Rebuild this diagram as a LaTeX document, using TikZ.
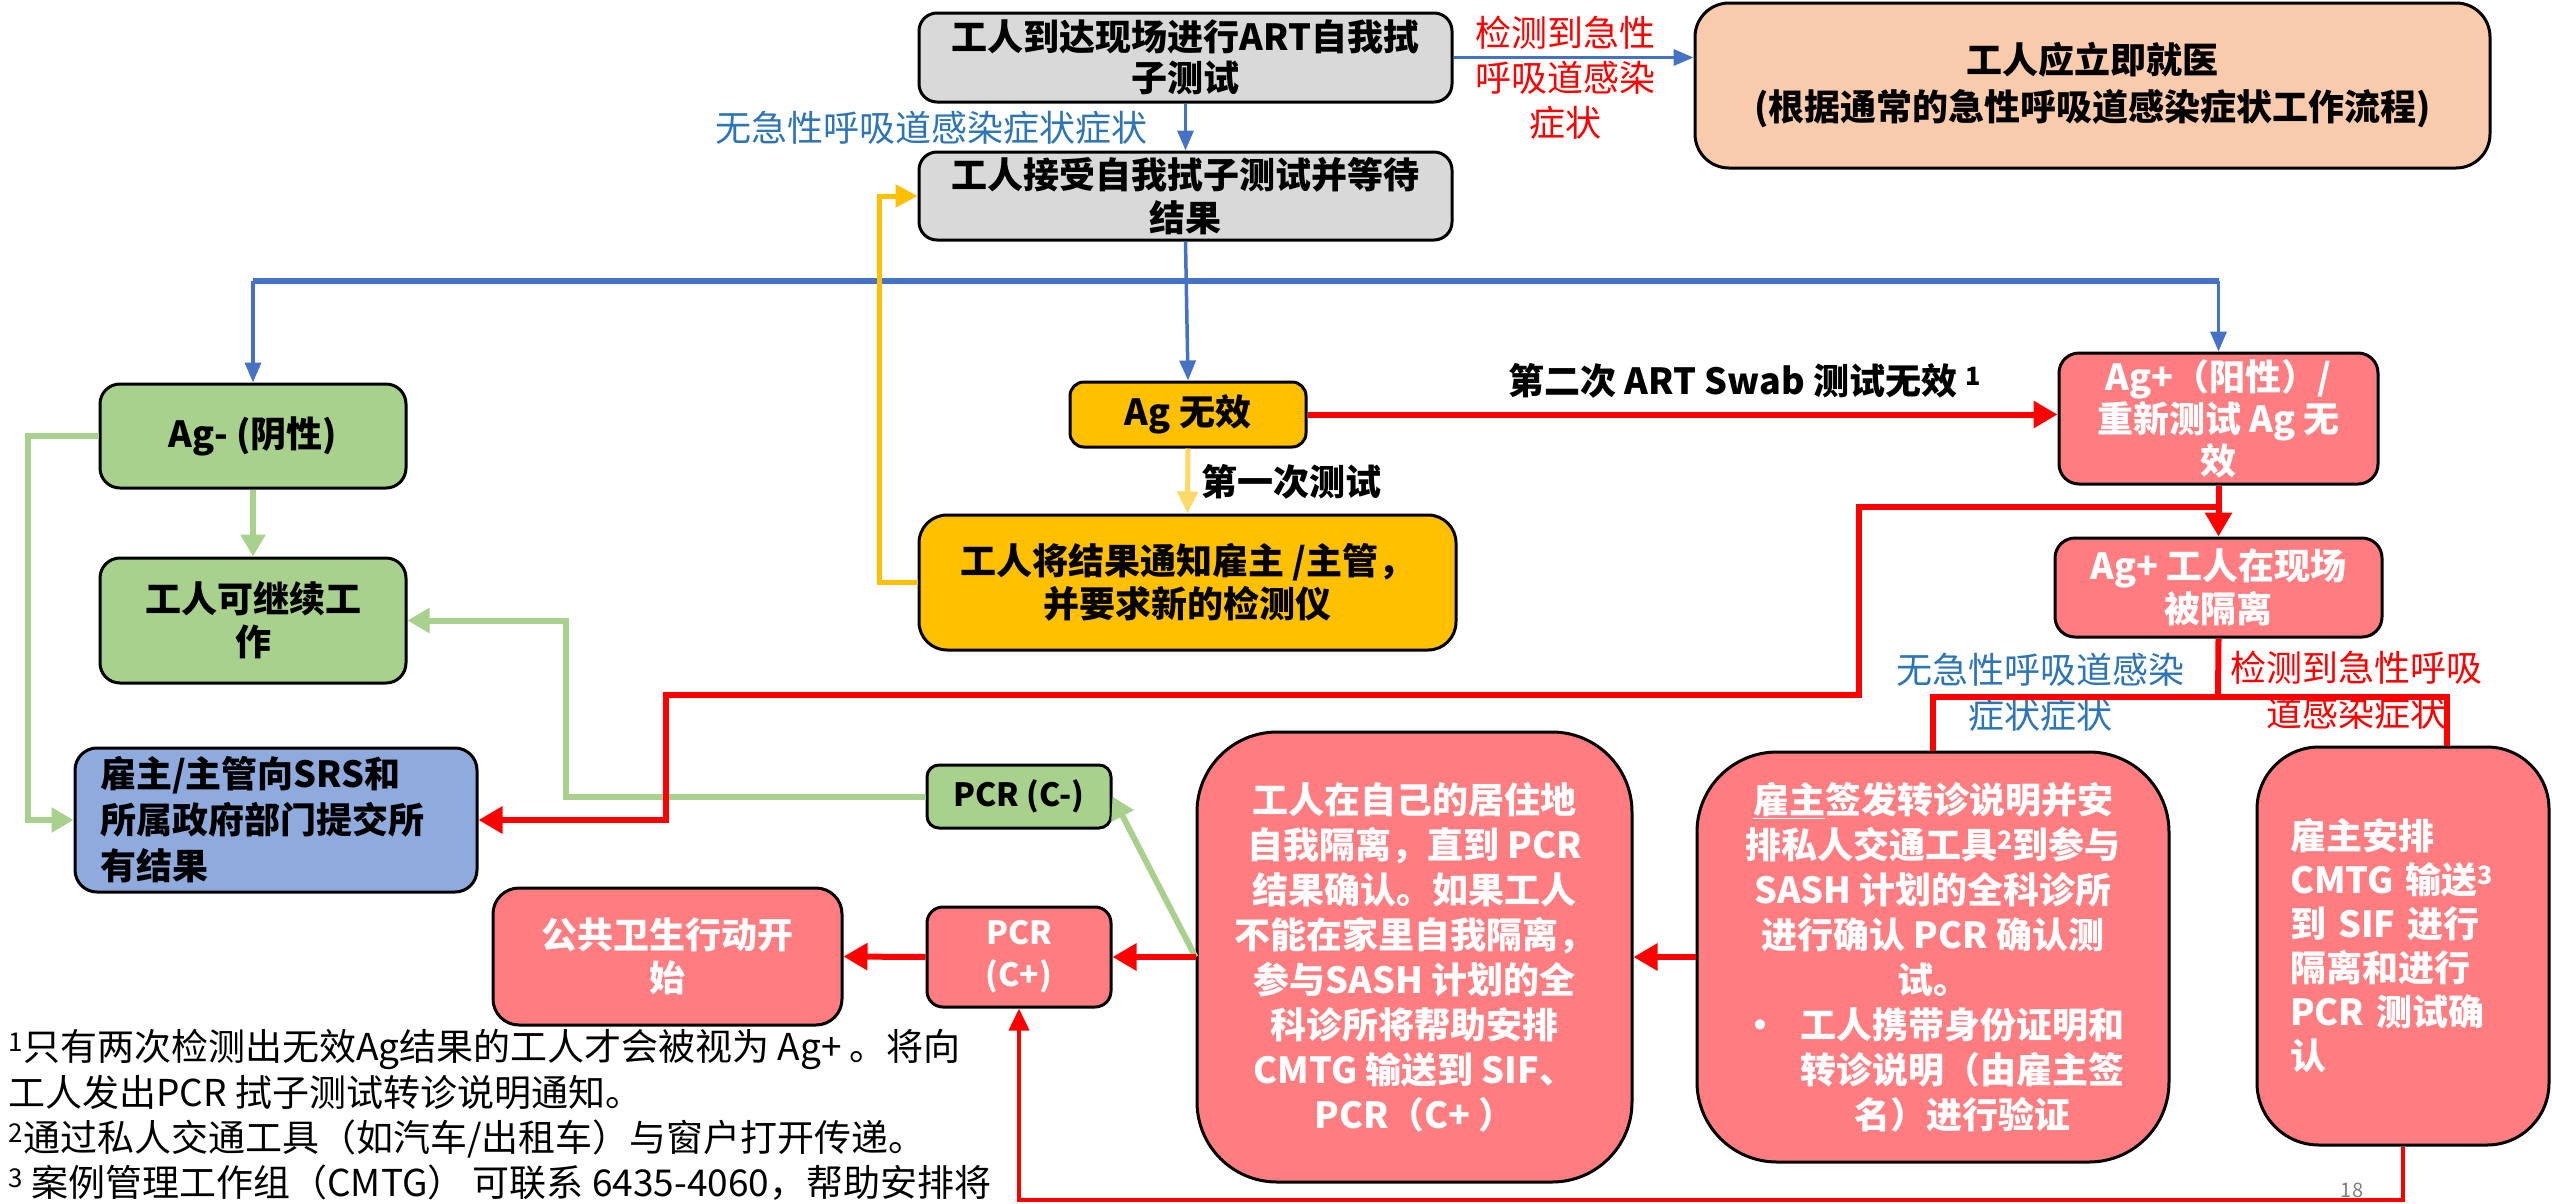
\documentclass[tikz,border=0pt]{standalone}
\usepackage{fontspec}
\setmainfont{Noto Sans CJK SC}
\usetikzlibrary{arrows.meta}
\definecolor{grayF}{HTML}{D9D9D9}
\definecolor{orangeF}{HTML}{F8CBAD}
\definecolor{greenF}{HTML}{A9D18E}
\definecolor{goldF}{HTML}{FFC000}
\definecolor{redF}{HTML}{FF7C80}
\definecolor{blueF}{HTML}{8FAADC}
\definecolor{blueL}{HTML}{4472C4}
\definecolor{greenL}{HTML}{A9D18E}
\definecolor{goldL}{HTML}{FFC000}
\definecolor{goldLL}{HTML}{FFD966}
\definecolor{blueT}{HTML}{2E75B6}
\definecolor{redL}{HTML}{FF0000}
\tikzset{
  boxbase/.style={draw=black, line width=3pt, inner sep=0pt, align=center,
    font=\fontsize{36}{43}\selectfont\bfseries},
  graybox/.style={boxbase, fill=grayF, rounded corners=18pt},
  orangebox/.style={boxbase, fill=orangeF, rounded corners=34pt},
  greenbox/.style={boxbase, fill=greenF, rounded corners=20pt},
  goldbox/.style={boxbase, fill=goldF, rounded corners=20pt},
  bluebox/.style={boxbase, fill=blueF, rounded corners=22pt},
  redbox/.style={boxbase, fill=redF, text=white, rounded corners=20pt},
  redbig/.style={redbox, rounded corners=80pt, font=\fontsize{36}{45}\selectfont\bfseries},
  bluelbl/.style={inner sep=0pt, align=center, text=blueT, font=\fontsize{36}{45}\selectfont},
  redlbl/.style={inner sep=0pt, align=center, text=redL, font=\fontsize{36}{45}\selectfont},
  boldlbl/.style={inner sep=0pt, align=center, text=black, font=\fontsize{36}{43}\selectfont\bfseries},
  bluearr/.style={draw=blueL, line width=3.5pt, -{Triangle[length=20pt,width=16pt]}},
  blueln/.style={draw=blueL, line width=6pt},
  redarr/.style={draw=redL, line width=6pt, -{Triangle[length=24pt,width=26pt]}},
  redln/.style={draw=redL, line width=6pt},
  redthin/.style={draw=redL, line width=4pt, -{Triangle[length=22pt,width=20pt]}},
  greenarr/.style={draw=greenL, line width=6pt, -{Triangle[length=22pt,width=24pt]}},
  goldarr/.style={draw=goldL, line width=5pt, -{Triangle[length=22pt,width=22pt]}},
  goldlarr/.style={draw=goldLL, line width=5pt, -{Triangle[length=22pt,width=20pt]}},
}
\begin{document}
\begin{tikzpicture}[x=1pt,y=-1pt]
\useasboundingbox (0,0) rectangle (2552,1203);
\fill[white] (0,0) rectangle (2552,1203);

% boxes
\node[graybox, minimum width=533pt, minimum height=89pt, font=\fontsize{36}{41}\selectfont\bfseries] (b1) at (1185.5,57.5) {工人到达现场进行ART自我拭\\子测试};
\node[orangebox, minimum width=795pt, minimum height=165pt, font=\fontsize{36}{47}\selectfont\bfseries] (hosp) at (2092.5,85.5) {工人应立即就医\\(根据通常的急性呼吸道感染症状工作流程)};
\node[graybox, minimum width=533pt, minimum height=88pt, font=\fontsize{36}{43}\selectfont\bfseries] (b2) at (1185.5,196) {工人接受自我拭子测试并等待\\结果};
\node[greenbox, minimum width=306pt, minimum height=104pt] (agneg) at (253,436) {Ag- (阴性)};
\node[greenbox, minimum width=306pt, minimum height=125pt] (cont) at (253,620.5) {工人可继续工\\作};
\node[goldbox, minimum width=236pt, minimum height=65pt, rounded corners=14pt] (agnull) at (1188,414.5) {Ag 无效};
\node[goldbox, minimum width=537pt, minimum height=135pt, rounded corners=28pt] (notify) at (1187.5,582.5) {工人将结果通知雇主 /主管，\\并要求新的检测仪};
\node[redbox, minimum width=319pt, minimum height=131pt, font=\fontsize{36}{42}\selectfont\bfseries] (agpos) at (2218.5,418.5) {Ag+（阳性）/\\重新测试 Ag 无\\效};
\node[redbox, minimum width=327pt, minimum height=99pt] (iso) at (2218.5,587.5) {Ag+ 工人在现场\\被隔离};
\node[bluebox, minimum width=402pt, minimum height=144pt, text width=352pt, align=left, font=\fontsize{36}{46}\selectfont\bfseries] (report) at (276,820) {雇主/主管向SRS和\\所属政府部门提交所\\有结果};
\node[greenbox, minimum width=184pt, minimum height=63pt, rounded corners=12pt, font=\fontsize{32}{40}\selectfont\bfseries] (pcrneg) at (1019,796.5) {PCR (C-)};
\node[redbig, minimum width=435pt, minimum height=450pt] (home) at (1414.5,957) {工人在自己的居住地\\自我隔离，直到 PCR\\结果确认。如果工人\\不能在家里自我隔离，\\参与SASH 计划的全\\科诊所将帮助安排\\CMTG 输送到 SIF、\\PCR（C+ ）};
\node[redbig, minimum width=472pt, minimum height=410pt] (refer) at (1933,957) {\underline{雇主}签发转诊说明并安\\排私人交通工具\textsuperscript{2}到参与\\SASH 计划的全科诊所\\进行确认 PCR 确认测\\试。\\\makebox[58pt][l]{•}工人携带身份证明和\\\hspace*{58pt}转诊说明（由雇主签\\\hspace*{58pt}名）进行验证};
\node[redbig, minimum width=292pt, minimum height=398pt, rounded corners=62pt, text width=226pt, align=left, font=\fontsize{36}{44}\selectfont\bfseries] (cmtg) at (2403,946) {雇主安排\\CMTG 输送\textsuperscript{3}\\到 SIF 进行\\隔离和进行\\PCR 测试确\\认};
\node[redbox, minimum width=349pt, minimum height=137pt, rounded corners=26pt] (public) at (667.5,956.5) {公共卫生行动开\\始};
\node[redbox, minimum width=184pt, minimum height=100pt, rounded corners=16pt, font=\fontsize{32}{42}\selectfont\bfseries] (pcrpos) at (1019,957) {PCR\\(C+)};

% labels
\node[bluelbl] (l1) at (931,128) {无急性呼吸道感染症状症状};
\node[redlbl] (l0) at (1565,78) {检测到急性\\呼吸道感染\\症状};
\node[boldlbl] (l2) at (1745,381) {第二次 ART Swab 测试无效 \textsuperscript{1}};
\node[boldlbl] (l3) at (1291,482) {第一次测试};
\node[bluelbl] (l5) at (2040,692) {无急性呼吸道感染\\症状症状};
\node[redlbl] (l6) at (2356,690) {检测到急性呼吸\\道感染症状};

% footnotes
\node[inner sep=0pt, anchor=west, align=left, font=\fontsize{37}{45.3}\selectfont] (fn) at (8,1115) {\textsuperscript{1}只有两次检测出无效Ag结果的工人才会被视为 Ag+ 。将向\\工人发出PCR 拭子测试转诊说明通知。\\\textsuperscript{2}通过私人交通工具（如汽车/出租车）与窗户打开传递。\\\textsuperscript{3} 案例管理工作组（CMTG） 可联系 6435-4060，帮助安排将};
\node[inner sep=0pt, text=gray, font=\fontsize{20}{20}\selectfont] (pg) at (2352,1190) {18};

% coordinates
\coordinate (jb) at (1186,281);
\coordinate (r1) at (2218,507);
\coordinate (rA) at (1859,695);
\coordinate (rB) at (666,695);
\coordinate (rj) at (2218,697);
\coordinate (rR) at (2447,0);
\coordinate (rb) at (0,1200);
\coordinate (gk) at (566,0);

% blue connectors
\draw[bluearr] (b1.east) -- (b1.east -| hosp.west);
\draw[bluearr] (b1.south) -- (b2.north);
\draw[bluearr] (b2.south) -- (agnull.north);
\draw[blueln] (agneg.north |- jb) -- (agpos.north |- jb);
\draw[bluearr] (agneg.north |- jb) -- (agneg.north);
\draw[bluearr] (agpos.north |- jb) -- (agpos.north);

% green connectors
\draw[greenarr] (agneg.south) -- (cont.north);
\draw[greenarr] (agneg.west) -- ++(-71,0) |- (report.west);
\draw[greenarr] (pcrneg.west) -| (gk |- cont.east) -- (cont.east);
\draw[greenarr] (home.west) -- (pcrneg.east);

% gold connectors
\draw[goldlarr] (agnull.south) -- (notify.north);
\draw[goldarr] (notify.west) -- ++(-38,0) |- (b2.west);

% red connectors
\draw[redarr] (agnull.east) -- (agnull.east -| agpos.west);
\draw[redarr] (agpos.south) -- (iso.north);
\draw[redarr] (r1) -| (rA) -- (rB) |- (report.east);
\draw[redln] (iso.south) -- (rj);
\draw[redln] (refer.north) |- (rj) -| (rR |- cmtg.north);
\draw[redarr] (refer.west) -- (home.east);
\draw[redarr] (home.west) -- (pcrpos.east);
\draw[redarr] (pcrpos.west) -- (public.east);
\draw[redthin] (cmtg.south) -- (cmtg.south |- rb) -| (pcrpos.south);
\end{tikzpicture}
\end{document}
